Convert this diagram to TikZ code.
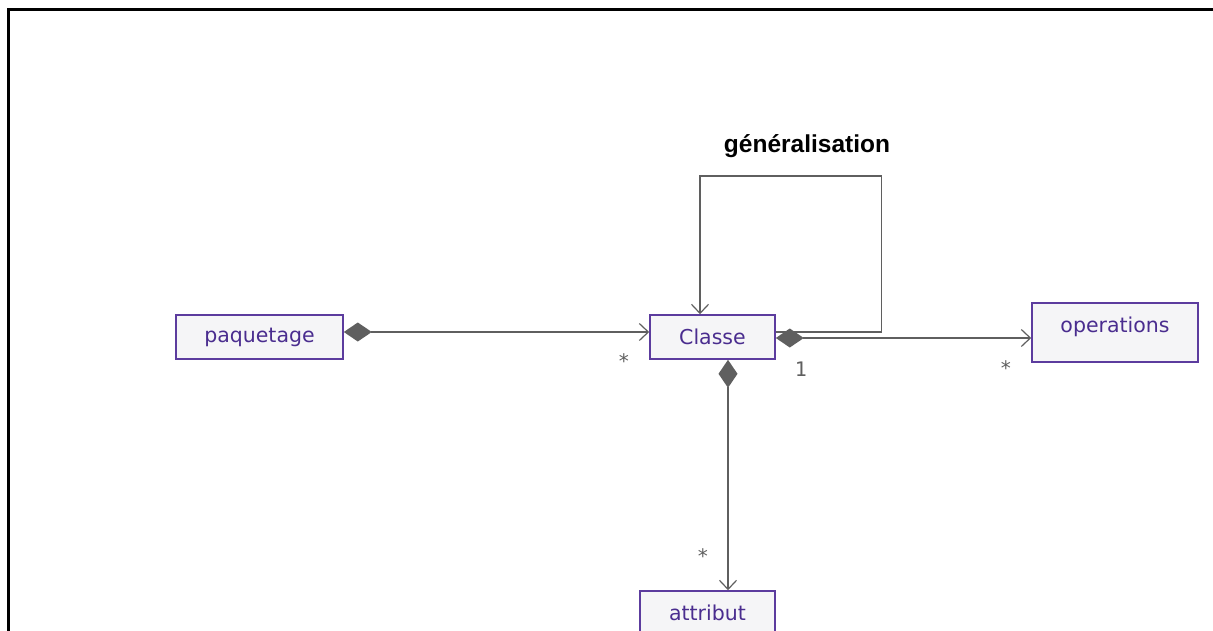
\documentclass[tikz,border=0pt]{standalone}
\usepackage{fontspec}
\setmainfont{DejaVu Sans}
\newfontfamily\labfont{Liberation Sans}
\newfontfamily\multfont{DejaVu Sans Mono}
\usetikzlibrary{arrows.meta}
\definecolor{boxborder}{RGB}{92,60,158}
\definecolor{boxfill}{RGB}{245,245,247}
\definecolor{boxtext}{RGB}{74,45,143}
\definecolor{linegray}{RGB}{95,95,95}
\tikzset{
  boxfont/.style={font=\fontsize{20.5}{24}\selectfont},
  classbox/.style={draw=boxborder, fill=boxfill, line width=1.6pt, text=boxtext,
    boxfont, inner sep=0pt},
  conn/.style={draw=linegray, line width=1.3pt},
  comp/.style={conn, {Diamond[length=28pt,width=19pt,fill=linegray,line width=0pt]}-{Straight Barb[length=9pt,width=17pt,line width=1.2pt]}},
  gen/.style={conn, -{Straight Barb[length=9pt,width=17pt,line width=1.2pt]}},
  mult/.style={text=linegray, font=\multfont\fontsize{20}{22}\selectfont, inner sep=0pt}
}
\begin{document}
\begin{tikzpicture}[x=1pt,y=-1pt]
\useasboundingbox (0,0) rectangle (1213,630);
\clip (0,0) rectangle (1213,630);
\fill[white] (0,0) rectangle (1213,630);
\draw[line width=3pt] (8.5,640) -- (8.5,9.5) -- (1220,9.5);

\node[classbox, minimum width=167pt, minimum height=44pt] (pq) at (259.5,337) {paquetage};
\node[classbox, minimum width=125pt, minimum height=44pt] (cl) at (712.5,337) {Classe};
\node[classbox, minimum width=166pt, minimum height=59pt,
      label={[text=boxtext, boxfont, inner sep=0pt, yshift=6pt]center:operations}] (op) at (1115,332.5) {};
\node[classbox, minimum width=135pt, minimum height=44pt] (at) at (707.5,613) {attribut};

\node[font=\labfont\bfseries\fontsize{24.5}{26}\selectfont, inner sep=0pt] (gl) at (807,146) {généralisation};

% compositions
\draw[comp] ([yshift=5pt]pq.east) -- ([yshift=5pt]cl.west);
\draw[comp] ([yshift=-1pt]cl.east) -- ([yshift=-1pt]cl.east -| op.west);
\draw[comp] ([xshift=15.5pt]cl.south) -- ([xshift=15.5pt]cl.south |- at.north);
% generalisation self loop
\draw[gen] ([yshift=5pt]cl.east) -- ++(106,0) -- ++(0,-156) -| ([xshift=-12.5pt]cl.north);

% multiplicities
\node[mult] (m1) at (624,361) {*};
\node[mult] (m2) at (801,369) {1};
\node[mult] (m3) at (1006,368) {*};
\node[mult] (m4) at (703,556) {*};
\end{tikzpicture}
\end{document}
